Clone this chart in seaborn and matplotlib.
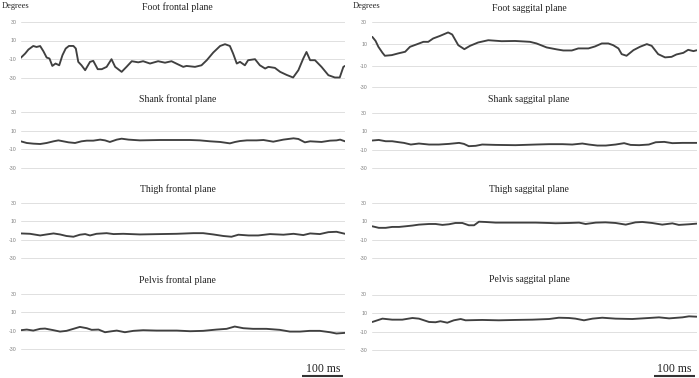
import numpy as np
import pandas as pd
import matplotlib
matplotlib.use('Agg')
import matplotlib.pyplot as plt
import matplotlib.transforms as mtransforms
import seaborn as sns

# angles, time in ms (about 800 ms per panel)
foot_frontal_t = [0, 11, 19, 31, 39, 48, 56, 64, 71, 78, 86, 95, 103, 111, 119, 130, 136, 142,
                  150, 159, 171, 179, 190, 200, 212, 224, 233, 249, 261, 274, 290, 302, 319, 339,
                  356, 372, 389, 401, 409, 430, 446, 459, 475, 492, 504, 516, 524, 533, 541, 553,
                  561, 578, 590, 603, 611, 627, 640, 656, 672, 685, 697, 705, 714, 726, 742, 759,
                  775, 787, 796, 800]
foot_frontal = [-8.8, -4.1, 0.2, 4.1, 3.0, 4.0, -1.6, -8.4, -9.5, -17.5, -14.9, -16.8, -5.9, 1.3,
                4.1, 4.1, 1.3, -13.1, -16.8, -22.1, -13.1, -12.0, -21.0, -21.0, -18.5, -10.2,
                -18.5, -23.9, -18.5, -12.4, -13.6, -12.4, -14.9, -12.4, -14.0, -12.4, -16.0,
                -18.5, -17.5, -18.5, -16.8, -11.3, -3.0, 4.1, 6.0, 4.1, -4.1, -14.9, -13.1,
                -16.8, -11.3, -10.2, -16.8, -20.3, -18.5, -19.6, -23.9, -27.2, -30.0, -22.1,
                -9.5, -2.4, -11.3, -11.3, -18.5, -27.5, -30.0, -30.0, -18.5, -17.5]

foot_sagittal_t = [0, 8, 15, 25, 31, 48, 64, 81, 93, 109, 126, 138, 150, 167, 187, 197, 212, 227,
                   241, 261, 286, 319, 352, 376, 389, 405, 430, 455, 471, 492, 508, 533, 549, 566,
                   582, 594, 607, 615, 627, 644, 660, 677, 689, 705, 722, 738, 750, 767, 779, 792,
                   800]
foot_sagittal = [16.7, 13.0, 7.5, 2.0, -0.8, -0.2, 1.4, 2.9, 7.5, 9.7, 12.1, 12.1, 15.2, 17.6,
                 20.8, 18.9, 9.0, 5.3, 8.4, 11.5, 13.6, 12.7, 12.9, 12.4, 12.1, 10.6, 6.9, 5.1,
                 4.1, 4.1, 6.0, 6.0, 7.8, 10.6, 10.6, 9.0, 6.0, 0.7, -0.8, 4.4, 7.5, 10.0, 8.4,
                 0.7, -2.3, -1.8, 0.4, 1.9, 4.7, 3.5, 4.3]

shank_frontal_t = [0, 15, 31, 48, 64, 81, 93, 105, 118, 134, 150, 163, 179, 196, 208, 220, 237,
                   249, 266, 294, 344, 393, 418, 442, 467, 492, 516, 529, 541, 558, 582, 599, 623,
                   648, 673, 685, 701, 714, 742, 763, 779, 788, 800]
shank_frontal = [-1.4, -3.2, -3.9, -4.3, -3.2, -1.4, -0.4, -1.4, -2.5, -3.2, -1.4, -0.7, -0.7,
                 0.4, -0.4, -2.1, 0.4, 1.4, 0.4, -0.4, 0.0, 0.0, 0.0, -0.4, -1.4, -2.1, -3.6,
                 -2.1, -1.1, -0.4, -0.4, 0.0, -1.8, 0.4, 1.8, 1.1, -2.5, -1.4, -2.1, -0.7, -0.4,
                 0.4, -1.4]

shank_sagittal_t = [0, 16, 33, 49, 66, 78, 95, 115, 140, 164, 189, 214, 226, 238, 255, 271, 304,
                    353, 403, 436, 469, 493, 518, 534, 555, 576, 600, 621, 637, 658, 682, 699, 720,
                    740, 765, 800]
shank_sagittal = [0.0, 0.6, -0.8, -0.8, -1.9, -2.6, -4.4, -3.3, -4.4, -4.4, -3.7, -2.6, -3.7,
                  -6.2, -5.8, -4.4, -4.8, -5.1, -4.4, -4.0, -4.0, -4.4, -3.3, -4.4, -5.5, -5.5,
                  -4.4, -2.9, -4.8, -5.1, -4.4, -1.9, -1.5, -2.9, -2.6, -2.6]

thigh_frontal_t = [0, 23, 48, 64, 81, 97, 113, 130, 146, 159, 171, 187, 212, 229, 253, 294, 344,
                   385, 426, 450, 475, 500, 520, 537, 562, 586, 615, 648, 673, 697, 714, 738, 759,
                   779, 800]
thigh_frontal = [-3.2, -3.6, -5.4, -4.3, -3.2, -4.3, -6.0, -6.8, -4.6, -3.9, -5.4, -3.6, -2.9,
                 -3.9, -3.6, -4.3, -3.9, -3.6, -2.9, -2.9, -4.3, -6.0, -6.8, -4.6, -5.4, -5.4,
                 -3.9, -4.6, -3.6, -5.0, -3.2, -3.9, -1.8, -1.4, -3.6]

thigh_sagittal_t = [0, 16, 33, 49, 66, 82, 99, 115, 140, 156, 173, 189, 205, 222, 238, 251, 263,
                    279, 304, 353, 403, 436, 452, 485, 510, 526, 551, 575, 600, 625, 649, 666, 690,
                    715, 740, 756, 781, 800]
thigh_sagittal = [4.6, 2.9, 2.9, 3.9, 3.9, 4.6, 5.4, 6.4, 7.1, 7.1, 6.1, 6.8, 8.2, 8.2, 5.7,
                  5.7, 9.6, 9.3, 8.6, 8.6, 8.6, 8.2, 7.9, 8.2, 8.6, 7.1, 8.6, 8.9, 8.2, 6.4, 8.9,
                  9.3, 8.2, 6.4, 7.8, 6.1, 6.8, 7.5]

pelvis_frontal_t = [0, 15, 31, 48, 60, 81, 97, 113, 130, 146, 163, 175, 192, 208, 225, 237, 257,
                    278, 302, 335, 385, 418, 450, 483, 508, 528, 549, 573, 606, 639, 664, 689, 713,
                    738, 763, 779, 800]
pelvis_frontal = [-9.5, -8.8, -9.9, -8.0, -7.7, -9.5, -11.0, -10.2, -8.0, -5.9, -7.3, -9.1,
                  -8.8, -11.7, -10.6, -9.9, -11.7, -10.2, -9.5, -9.9, -9.9, -10.6, -10.2, -8.8,
                  -8.0, -5.5, -7.3, -8.0, -8.0, -9.1, -11.0, -11.0, -10.2, -10.2, -11.7, -13.1,
                  -12.4]

pelvis_sagittal_t = [0, 25, 49, 74, 99, 115, 140, 156, 168, 185, 201, 218, 230, 271, 312, 353,
                     395, 436, 460, 485, 501, 522, 543, 567, 600, 641, 682, 707, 732, 765, 781,
                     800]
pelvis_sagittal = [0.3, 3.9, 2.8, 2.8, 4.6, 3.9, 0.3, 0.0, 1.1, -0.5, 2.1, 3.5, 2.1, 2.5, 2.1,
                   2.5, 2.8, 3.5, 4.9, 4.6, 3.9, 2.1, 3.9, 4.9, 3.9, 3.5, 4.6, 5.3, 4.2, 5.3, 6.4,
                   6.0]

panels = [
    ('Foot frontal plane', foot_frontal_t, foot_frontal, 0, 22.0, 77.5, 7.5),
    ('Shank frontal plane', shank_frontal_t, shank_frontal, 0, 112.0, 168.0, 99.0),
    ('Thigh frontal plane', thigh_frontal_t, thigh_frontal, 0, 203.0, 258.0, 189.3),
    ('Pelvis frontal plane', pelvis_frontal_t, pelvis_frontal, 0, 294.0, 349.0, 280.0),
    ('Foot saggital plane', foot_sagittal_t, foot_sagittal, 1, 22.5, 87.3, 8.3),
    ('Shank saggital plane', shank_sagittal_t, shank_sagittal, 1, 113.0, 168.0, 99.0),
    ('Thigh saggital plane', thigh_sagittal_t, thigh_sagittal, 1, 203.0, 258.0, 189.0),
    ('Pelvis saggital plane', pelvis_sagittal_t, pelvis_sagittal, 1, 294.5, 350.0, 280.0),
]
y_ticks = [-30, -10, 10, 30]

W, H = 699, 378
col_x = [(20.7, 345.0), (372.3, 696.7)]
col_title_x = [177.5, 529.0]
col_pad = [2.7, 3.7]

sns.set_theme(style='white')
plt.rcParams['font.family'] = ['Liberation Serif', 'DejaVu Serif']

fig = plt.figure(figsize=(W / 100, H / 100), dpi=100)
line_color = '#404040'

for title, t, v, col, y30, ym30, ty in panels:
    ppd = (ym30 - y30) / 60.0
    top = y30 - 3 * ppd
    bot = ym30 + 3 * ppd
    x0, x1 = col_x[col]
    ax = fig.add_axes([x0 / W, 1 - bot / H, (x1 - x0) / W, (bot - top) / H])
    df = pd.DataFrame({'t': t, 'deg': v})
    sns.lineplot(data=df, x='t', y='deg', ax=ax, color=line_color, lw=1.35, sort=False,
                 solid_joinstyle='round', solid_capstyle='round')
    ax.set_xlim(0, 800)
    ax.set_ylim(-33, 33)
    ax.set_yticks(y_ticks)
    ax.set_yticklabels([str(k) for k in y_ticks], fontsize=3.8, color='#7f7f7f',
                       family='Liberation Sans')
    ax.set_xticks([])
    ax.set_xlabel('')
    ax.set_ylabel('')
    ax.tick_params(axis='y', length=0, pad=col_pad[col])
    ax.grid(axis='y', color='#e0e0e0', lw=0.7)
    ax.set_axisbelow(True)
    for s in ax.spines.values():
        s.set_visible(False)
    ax.patch.set_alpha(0)
    fig.text(col_title_x[col] / W, 1 - ty / H, title, ha='center', va='center', fontsize=7,
             color='#222222')
    if title.startswith('Pelvis'):
        # 100 ms scale bar under the last panel
        tr = mtransforms.blended_transform_factory(ax.transData, fig.transFigure)
        ax.plot([695, 795], [1 - 376 / H, 1 - 376 / H], color='#333333', lw=1.5,
                transform=tr, clip_on=False, solid_capstyle='butt')
        ax.text(745, 1 - 368.5 / H, '100 ms', transform=tr, ha='center', va='center',
                fontsize=8.5, color='#222222')

fig.text(1.7 / W, 1 - 6 / H, 'Degrees', ha='left', va='center', fontsize=6, color='#222222')
fig.text(352.3 / W, 1 - 5.7 / H, 'Degrees', ha='left', va='center', fontsize=6,
         color='#222222')

fig.savefig('out.png', dpi=100)
